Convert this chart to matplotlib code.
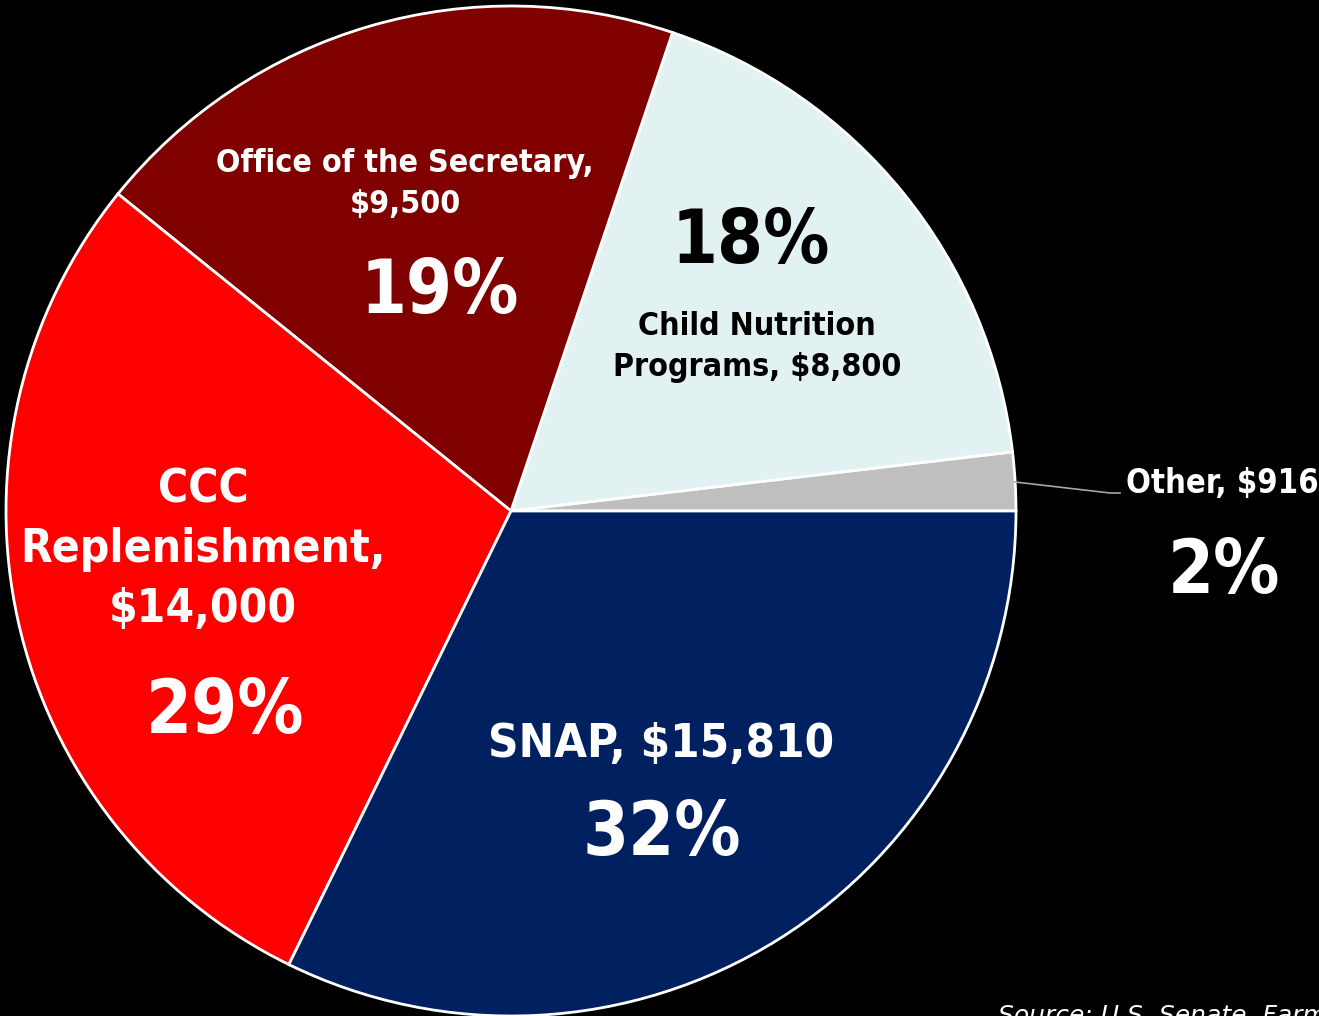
import matplotlib.pyplot as plt

# -----------------------
# Data
# -----------------------
labels = ["Other", "Child Nutrition Programs", "Office of the Secretary",
          "CCC Replenishment", "SNAP"]
values = [916, 8800, 9500, 14000, 15810]
colors = ["#BFBFBF", "#E2F1F2", "#800000", "#FF0000", "#002060"]

W, H = 1319, 1016
FONT = ["DejaVu Sans"]

fig = plt.figure(figsize=(W / 100, H / 100), dpi=100, facecolor="black")
ax = fig.add_axes([0, 0, 1, 1])
ax.set_facecolor("black")

cx, cy, r = 511, H - 511, 505
ax.pie(values, colors=colors, startangle=0, counterclock=True,
       center=(cx, cy), radius=r, frame=True,
       wedgeprops=dict(edgecolor="white", linewidth=2))
ax.set_xlim(0, W)
ax.set_ylim(0, H)
ax.set_aspect("equal")
ax.axis("off")


def txt(x, y, s, size, color="white", ls=1.3):
    ax.text(x, H - y, s, fontsize=size, color=color, ha="center", va="center",
            fontweight="bold", family=FONT, fontstretch="condensed",
            linespacing=ls)


# labels
txt(405, 184, "Office of the Secretary,\n$9,500", 23, ls=1.45)
txt(440, 292, "19%", 53)
txt(751, 243, "18%", 53, color="black")
txt(757, 347, "Child Nutrition\nPrograms, $8,800", 23, color="black", ls=1.45)
txt(203, 550, "CCC\nReplenishment,\n$14,000", 33, ls=1.42)
txt(225, 712, "29%", 53)
txt(661, 745, "SNAP, $15,810", 34)
txt(662, 835, "32%", 53)
txt(1222, 483, "Other, $916", 23.5)
txt(1224, 572, "2%", 53)

# leader line for Other
ax.plot([1015, 1110, 1120], [H - 482, H - 493, H - 493], color="#A6A6A6", lw=1.2)

ax.text(998, H - 1016, "Source: U.S. Senate, Farm Bill", fontsize=18, color="white",
        style="italic", ha="left", va="center", family=FONT)

fig.savefig("out.png", dpi=100, facecolor="black")
